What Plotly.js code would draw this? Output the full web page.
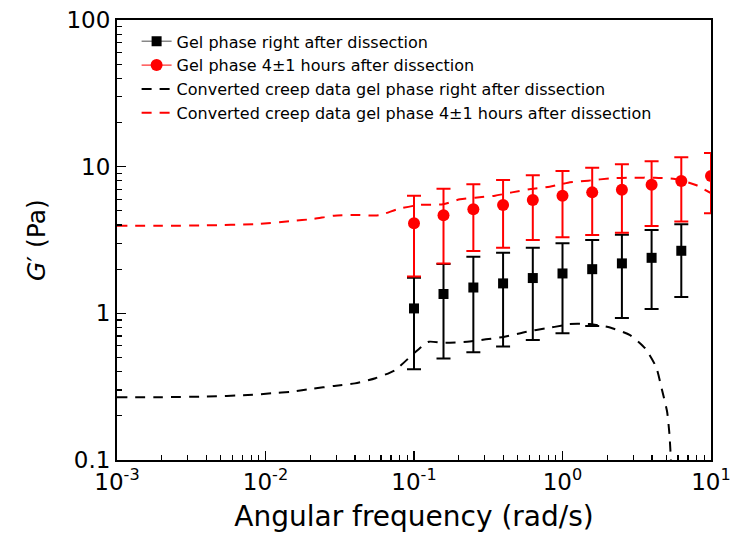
<!DOCTYPE html>
<html>
<head>
<meta charset="utf-8">
<script src="https://cdn.plot.ly/plotly-3.0.1.min.js"></script>
<style>html,body{margin:0;padding:0;background:#fff;}#chart{width:732px;height:543px;}</style>
</head>
<body>
<div id="chart"></div>
<script>
// ---- data ----
const freq = [0.1, 0.158, 0.251, 0.398, 0.631, 1, 1.585, 2.512, 3.981, 6.31];
const freqRed = [0.1, 0.158, 0.251, 0.398, 0.631, 1, 1.585, 2.512, 3.981, 6.31, 10];

const gelRight = [1.08, 1.355, 1.50, 1.60, 1.74, 1.87, 2.00, 2.19, 2.39, 2.67];
const gelRightUpper = [1.75, 2.17, 2.43, 2.59, 2.80, 3.00, 3.16, 3.44, 3.70, 4.05];
const gelRightLower = [0.415, 0.493, 0.542, 0.593, 0.658, 0.731, 0.82, 0.93, 1.07, 1.29];

const gel4h = [4.11, 4.66, 5.12, 5.48, 5.93, 6.34, 6.68, 6.96, 7.54, 7.98, 8.63];
const gel4hUpper = [6.34, 7.08, 7.58, 8.11, 8.73, 9.34, 9.84, 10.4, 10.9, 11.6, 12.4];
const gel4hLower = [1.78, 2.19, 2.66, 2.80, 3.16, 3.30, 3.42, 3.55, 3.94, 4.22, 4.81];

const creepRightX = [0.001, 0.002, 0.004, 0.0076, 0.011, 0.015, 0.0206, 0.029, 0.040, 0.055, 0.0745, 0.097, 0.112, 0.126, 0.158, 0.228, 0.305, 0.40, 0.577, 0.775, 1.02, 1.1, 1.53, 2.09, 2.85, 3.6, 4.27, 4.68, 5.06, 5.25, 5.4];
const creepRightY = [0.268, 0.268, 0.271, 0.277, 0.285, 0.292, 0.306, 0.32, 0.333, 0.361, 0.41, 0.52, 0.59, 0.64, 0.63, 0.64, 0.665, 0.69, 0.75, 0.79, 0.83, 0.846, 0.845, 0.80, 0.71, 0.578, 0.43, 0.30, 0.214, 0.15, 0.09];

const creep4hX = [0.001, 0.002, 0.004, 0.0086, 0.0149, 0.021, 0.029, 0.041, 0.058, 0.078, 0.108, 0.157, 0.204, 0.258, 0.351, 0.457, 0.614, 0.82, 1.09, 1.49, 2.15, 2.94, 4.2, 5.72, 7.9, 10];
const creep4hY = [3.95, 3.95, 3.98, 4.06, 4.26, 4.40, 4.63, 4.68, 4.66, 5.14, 5.48, 5.54, 5.99, 6.14, 6.34, 6.68, 7.04, 7.30, 7.78, 8.03, 8.34, 8.41, 8.41, 8.24, 7.50, 6.6];

const names = [
  'Gel phase right after dissection',
  'Gel phase 4\u00B11 hours after dissection',
  'Converted creep data gel phase right after dissection',
  'Converted creep data gel phase 4\u00B11 hours after dissection'
];

const xTickVals = [0.001, 0.01, 0.1, 1, 10];
const xTickText = ['10<sup>-3</sup>', '10<sup>-2</sup>', '10<sup>-1</sup>', '10<sup>0</sup>', '10<sup>1</sup>'];
const yTickVals = [0.1, 1, 10, 100];
const yTickText = ['0.1', '1', '10', '100'];

// ---- helpers ----
function minorDecades(lo, hi) {
  const out = [];
  for (let e = lo; e < hi; e++) for (let m = 2; m <= 9; m++) out.push(m * Math.pow(10, e));
  return out;
}
const diff = (a, b) => a.map((v, i) => v - b[i]);

const FONT = 'DejaVu Sans, Verdana, sans-serif';

const traces = [
  {
    x: freq, y: gelRight, type: 'scatter', mode: 'markers', showlegend: false,
    marker: {symbol: 'square', size: 10, color: '#000'},
    error_y: {type: 'data', symmetric: false, array: diff(gelRightUpper, gelRight), arrayminus: diff(gelRight, gelRightLower),
              color: '#000', thickness: 2, width: 7}
  },
  {
    x: freqRed, y: gel4h, type: 'scatter', mode: 'markers', showlegend: false,
    marker: {symbol: 'circle', size: 12, color: '#ff0000'},
    error_y: {type: 'data', symmetric: false, array: diff(gel4hUpper, gel4h), arrayminus: diff(gel4h, gel4hLower),
              color: '#ff0000', thickness: 2, width: 7}
  },
  {
    x: creepRightX, y: creepRightY, type: 'scatter', mode: 'lines', name: names[2], legendrank: 3,
    line: {color: '#000', width: 2, dash: '10px,8px', shape: 'spline', smoothing: 0.6}
  },
  {
    x: creep4hX, y: creep4hY, type: 'scatter', mode: 'lines', name: names[3], legendrank: 4,
    line: {color: '#ff0000', width: 2, dash: '10px,8px', shape: 'spline', smoothing: 0.6}
  },
  // legend entries for the measured data (line + marker like the original legend)
  {
    x: [null], y: [null], type: 'scatter', mode: 'lines+markers', name: names[0], legendrank: 1,
    line: {color: '#888', width: 1.5}, marker: {symbol: 'square', size: 10, color: '#000'}
  },
  {
    x: [null], y: [null], type: 'scatter', mode: 'lines+markers', name: names[1], legendrank: 2,
    line: {color: '#ff0000', width: 1}, marker: {symbol: 'circle', size: 12, color: '#ff0000'}
  }
];

const layout = {
  width: 732, height: 543,
  margin: {l: 117, r: 21, t: 20, b: 83},
  paper_bgcolor: '#fff', plot_bgcolor: '#fff',
  font: {family: FONT, color: '#000'},
  showlegend: true,
  legend: {x: 0.033, y: 0.99, xanchor: 'left', yanchor: 'top', bgcolor: 'rgba(0,0,0,0)',
           font: {size: 16, family: FONT, color: '#000'}, tracegroupgap: 0, itemwidth: 30},
  xaxis: {
    type: 'log', range: [-3, 1], showgrid: false, zeroline: false,
    showline: true, linecolor: '#000', linewidth: 2, mirror: true,
    ticks: 'inside', ticklen: 9, tickwidth: 1.5, tickcolor: '#000',
    tickmode: 'array', tickvals: xTickVals, ticktext: xTickText,
    tickfont: {size: 23, family: FONT, color: '#000'},
    minor: {tickmode: 'array', tickvals: minorDecades(-3, 1), ticks: 'inside', ticklen: 5, tickwidth: 1.2, tickcolor: '#000', showgrid: false},
    title: {text: 'Angular frequency (rad/s)', font: {size: 28, family: FONT, color: '#000'}, standoff: 13}
  },
  yaxis: {
    type: 'log', range: [-1, 2], showgrid: false, zeroline: false,
    showline: true, linecolor: '#000', linewidth: 2, mirror: true,
    ticks: 'inside', ticklen: 9, tickwidth: 1.5, tickcolor: '#000',
    tickmode: 'array', tickvals: yTickVals, ticktext: yTickText,
    tickfont: {size: 23, family: FONT, color: '#000'},
    minor: {tickmode: 'array', tickvals: minorDecades(-1, 2), ticks: 'inside', ticklen: 5, tickwidth: 1.2, tickcolor: '#000', showgrid: false},
    title: {text: '<i>G</i>\u2032 (Pa)', font: {size: 25, family: FONT, color: '#000'}, standoff: 14}
  }
};

Plotly.newPlot('chart', traces, layout, {displayModeBar: false, staticPlot: true});
</script>
</body>
</html>
